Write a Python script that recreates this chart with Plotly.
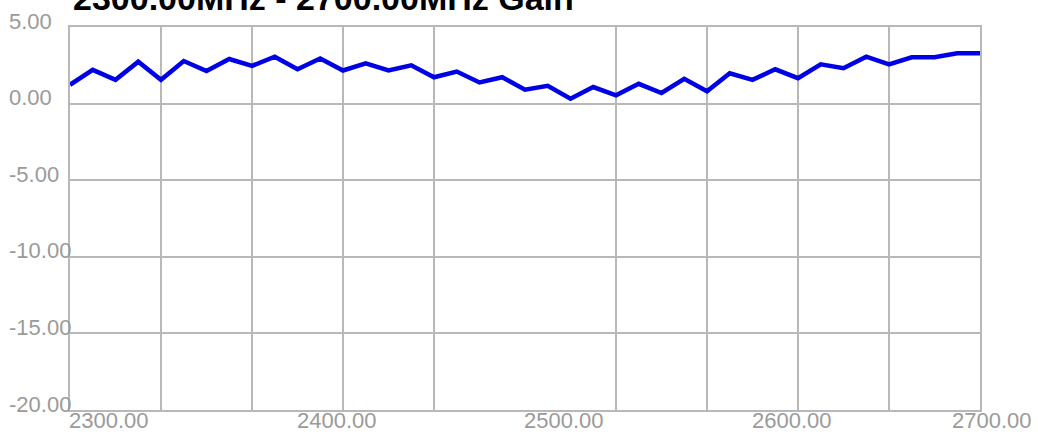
import plotly.graph_objects as go

title_text = "2300.00MHz - 2700.00MHz Gain"
freq_mhz = [2300, 2310, 2320, 2330, 2340, 2350, 2360, 2370, 2380, 2390,
            2400, 2410, 2420, 2430, 2440, 2450, 2460, 2470, 2480, 2490,
            2500, 2510, 2520, 2530, 2540, 2550, 2560, 2570, 2580, 2590,
            2600, 2610, 2620, 2630, 2640, 2650, 2660, 2670, 2680, 2690, 2700]
gain_db = [1.23, 2.20, 1.55, 2.74, 1.55, 2.78, 2.13, 2.91, 2.46, 3.06,
           2.24, 2.95, 2.16, 2.63, 2.16, 2.50, 1.72, 2.09, 1.38, 1.72,
           0.91, 1.16, 0.32, 1.08, 0.54, 1.29, 0.69, 1.62, 0.80, 1.98,
           1.55, 2.24, 1.66, 2.56, 2.31, 3.06, 2.56, 3.02, 3.02, 3.28, 3.28]
x_ticks = [2300, 2400, 2500, 2600, 2700]
x_tick_labels = ["2300.00", "2400.00", "2500.00", "2600.00", "2700.00"]
y_ticks = [5, 0, -5, -10, -15, -20]
y_tick_labels = ["5.00", "0.00", "-5.00", "-10.00", "-15.00", "-20.00"]

grid_col = "#b8b8b8"
lab_col = "#9a9a9a"
lab_font = dict(family="Liberation Sans, Arial, sans-serif", size=22, color=lab_col)

fig = go.Figure()
fig.add_trace(go.Scatter(x=freq_mhz, y=gain_db, mode="lines",
                         line=dict(color="#0000e6", width=4.5), hoverinfo="x+y"))

annotations = []
for i, (v, t) in enumerate(zip(x_ticks, x_tick_labels)):
    last = i == len(x_ticks) - 1
    annotations.append(dict(
        x=v, xref="x", y=0, yref="paper", text=t, showarrow=False,
        xanchor="right" if last else "left", xshift=54 if last else -3,
        yanchor="top", yshift=4, font=lab_font))
for v, t in zip(y_ticks, y_tick_labels):
    annotations.append(dict(
        x=0, xref="paper", y=v, yref="y", text=t, showarrow=False,
        xanchor="left", xshift=-63, yanchor="middle", yshift=6, font=lab_font))
annotations.append(dict(
    x=0, xref="paper", y=1, yref="paper", text="<b>" + title_text + "</b>",
    showarrow=False, xanchor="left", xshift=1, yanchor="bottom", yshift=8,
    font=dict(family="Liberation Sans, Arial, sans-serif", size=34, color="#000000")))

fig.update_layout(
    width=1038, height=434,
    margin=dict(l=70, r=58, t=27, b=24),
    paper_bgcolor="white", plot_bgcolor="white",
    showlegend=False,
    annotations=annotations,
    xaxis=dict(range=[2300, 2700], showgrid=False, zeroline=False,
               showticklabels=False, ticks="",
               showline=True, linecolor=grid_col, linewidth=2, mirror=True,
               minor=dict(tick0=2300, dtick=40, showgrid=True,
                          gridcolor=grid_col, gridwidth=2, ticks="")),
    yaxis=dict(range=[-20, 5], tickvals=y_ticks, showticklabels=False, ticks="",
               showgrid=True, gridcolor=grid_col, gridwidth=2,
               zeroline=False,
               showline=True, linecolor=grid_col, linewidth=2, mirror=True),
)

fig.write_html("out.html", config={"displayModeBar": False},
               post_script="document.body.style.margin='0';document.body.style.overflow='hidden';")
